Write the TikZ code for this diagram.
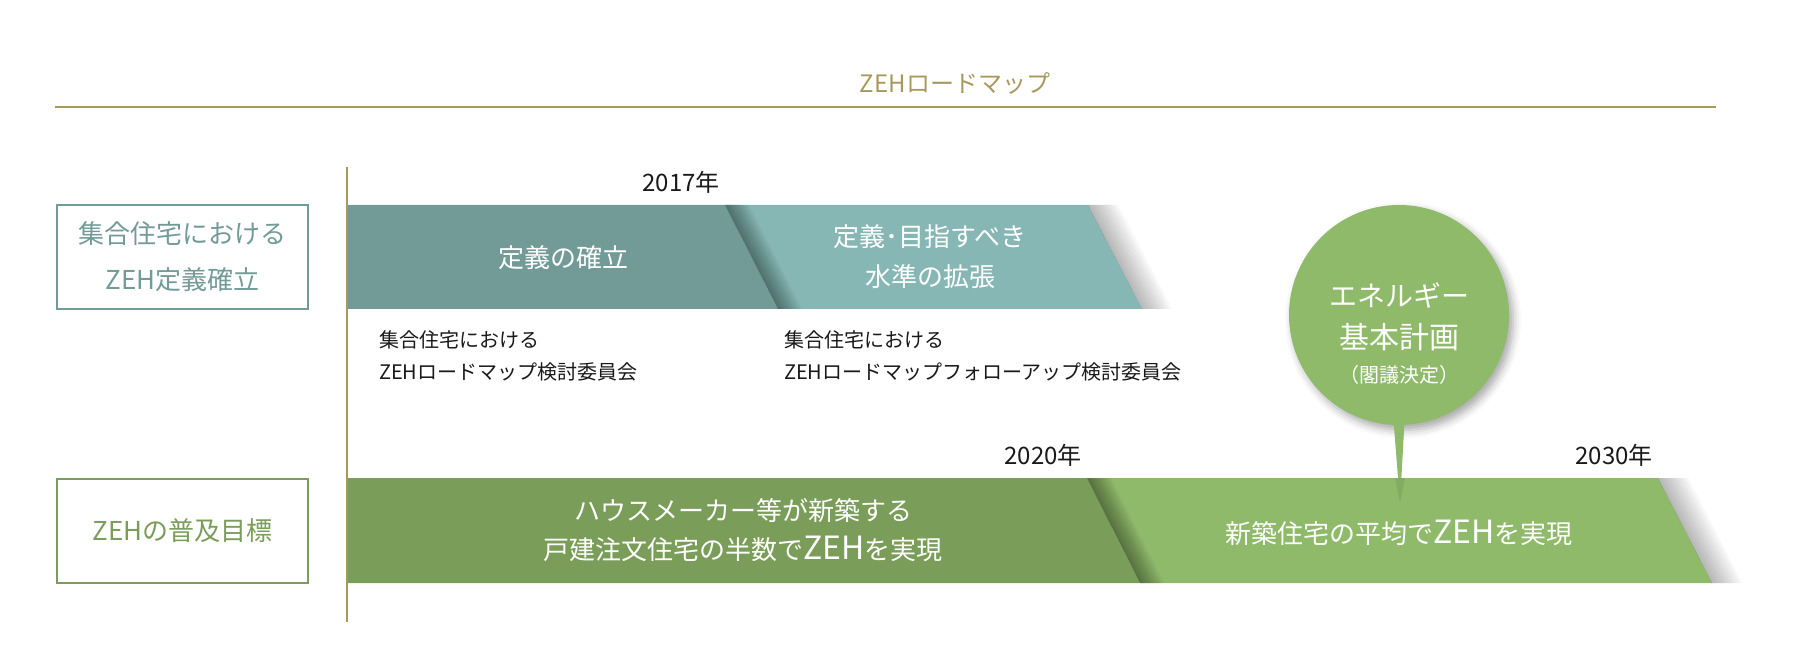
\documentclass[tikz,border=0pt]{standalone}
\usepackage{fontspec}
\setmainfont{Noto Sans CJK JP}
\usetikzlibrary{shadows.blur}
\definecolor{roadgold}{HTML}{A8985C}
\definecolor{tealdark}{HTML}{729B98}
\definecolor{teallight}{HTML}{86B7B4}
\definecolor{greendark}{HTML}{7A9D59}
\definecolor{greenlight}{HTML}{8FBA6A}
\newcommand\bigzeh{{\fontsize{16}{16}\selectfont ZEH}}
\tikzset{
  rowlabel/.style={draw, line width=1pt, fill=white, minimum width=125.5pt, minimum height=52pt, align=center},
  bartext/.style={text=white, align=center, font=\fontsize{13}{20}\selectfont},
  yearlabel/.style={text=black!90, font=\fontsize{12}{14}\selectfont},
  sublabel/.style={anchor=west, align=left, text=black!90, font=\fontsize{10}{16}\selectfont},
  plantext/.style={text=white}
}

\begin{document}
\begin{tikzpicture}[x=0.5pt,y=-0.5pt]
        \useasboundingbox (0,0) rectangle (1802,662);
        \node[text=roadgold, font=\fontsize{12}{14}\selectfont] (title) at (955,83) {ZEHロードマップ};
        \draw[roadgold, line width=0.9pt] (55,107) -- (1716,107);
        % row labels
        \node[rowlabel, draw=tealdark, text=tealdark, font=\fontsize{13}{23}\selectfont] (rowapt) at (182.5,257) {集合住宅における\\ZEH定義確立};
        \node[rowlabel, draw=greendark, text=greendark, font=\fontsize{13}{23}\selectfont] (rowgoal) at (182.5,530.5) {ZEHの普及目標};
        % upper bar
        \fill[teallight] (725,205) -- (1088,205) -- (1142,309) -- (778,309) -- cycle;
        \fill[tealdark] (348,205) -- (725,205) -- (778,309) -- (348,309) -- cycle;
        \foreach \s in {2,4,...,24}
          \fill[black,opacity=0.035] (725,205) -- (778,309) -- ++(\s,0) -- ++(-53,-104) -- cycle;
        \foreach \s in {3,6,...,30}
          \fill[black,opacity=0.03] (1088,205) -- (1142,309) -- ++(\s,0) -- ++(-54,-104) -- cycle;
        % lower bar
        \fill[greenlight] (1087,478) -- (1658,478) -- (1712,583) -- (1140,583) -- cycle;
        \fill[greendark] (348,478) -- (1087,478) -- (1140,583) -- (348,583) -- cycle;
        \foreach \s in {2,4,...,24}
          \fill[black,opacity=0.035] (1087,478) -- (1140,583) -- ++(\s,0) -- ++(-53,-105) -- cycle;
        \foreach \s in {3,6,...,30}
          \fill[black,opacity=0.03] (1658,478) -- (1712,583) -- ++(\s,0) -- ++(-54,-105) -- cycle;
        \draw[roadgold, line width=0.6pt] (347,167) -- (347,622);
        % years
        \node[yearlabel] (y2017) at (681,182) {2017年};
        \node[yearlabel] (y2020) at (1043,455) {2020年};
        \node[yearlabel] (y2030) at (1614,455) {2030年};
        % bar texts
        \node[bartext] (define) at (563,258) {定義の確立};
        \node[bartext] (extend) at (930,257) {定義･目指すべき\\水準の拡張};
        \node[bartext, font=\fontsize{13}{19.5}\selectfont] (half) at (743,530) {ハウスメーカー等が新築する\\戸建注文住宅の半数で\bigzeh を実現};
        \node[bartext] (average) at (1399,533) {新築住宅の平均で\bigzeh を実現};
        % committees
        \node[sublabel] (comm1) at (372,356) {集合住宅における\\ZEHロードマップ検討委員会};
        \node[sublabel] (comm2) at (777,356) {集合住宅における\\ZEHロードマップフォローアップ検討委員会};
        % energy plan bubble
        \node[circle, fill=greenlight, minimum size=110pt, inner sep=0pt,
              blur shadow={shadow xshift=2pt, shadow yshift=-2.5pt, shadow blur radius=4pt, shadow opacity=35}] (plan) at (1399,315) {};
        \coordinate (plantip) at (1400,503);
        \fill[greenlight] ([xshift=-2.8pt,yshift=3pt]plan.south) -- (plantip) -- ([xshift=2.8pt,yshift=3pt]plan.south) -- cycle;
        \fill[black,opacity=0.08] (1395,478) -- (plantip) -- (1405,478) -- cycle;
        \node[plantext, font=\fontsize{14}{16}\selectfont] (plan1) at (1399,295) {エネルギー};
        \node[plantext, font=\fontsize{15}{17}\selectfont] (plan2) at (1399,337) {基本計画};
        \node[plantext, font=\fontsize{10}{12}\selectfont] (plan3) at (1399,375) {（閣議決定）};
      \end{tikzpicture}
\end{document}
